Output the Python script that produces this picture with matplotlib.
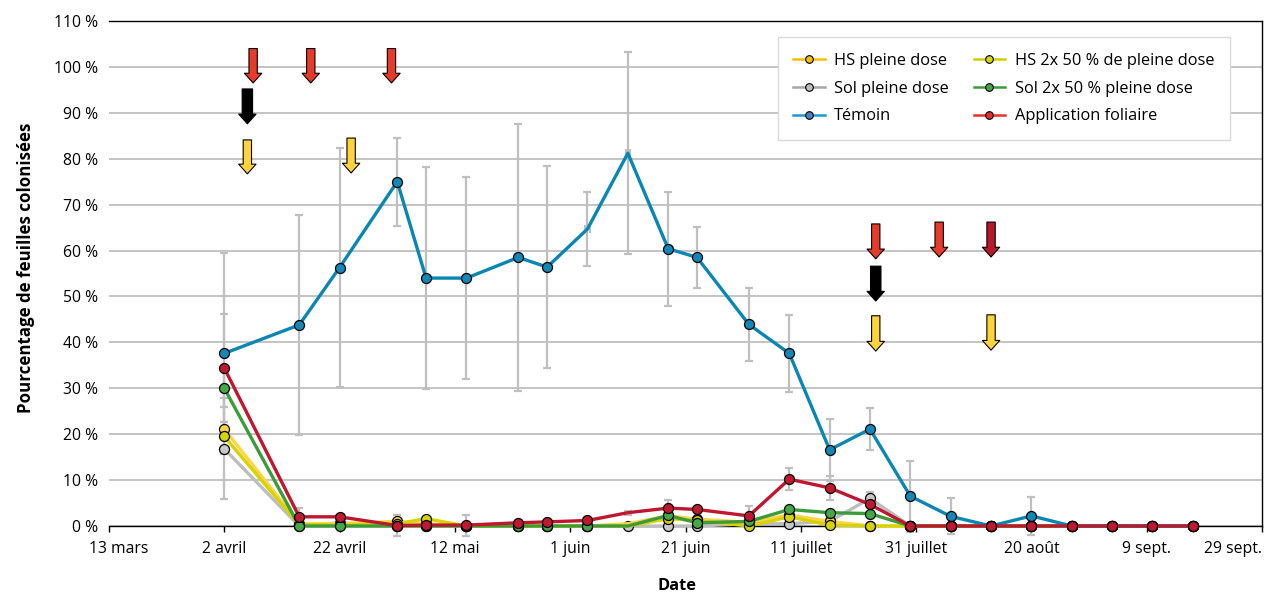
import numpy as np
import pandas as pd
import matplotlib
matplotlib.use("Agg")
import matplotlib.pyplot as plt
import matplotlib.dates as mdates
from matplotlib.lines import Line2D
from matplotlib.transforms import ScaledTranslation

plt.rcParams["font.family"] = ["Open Sans", "Noto Sans", "DejaVu Sans"]
plt.rcParams["font.size"] = 11.3

# sampling dates
dates = pd.to_datetime([
    "2016-04-02", "2016-04-15", "2016-04-22", "2016-05-02", "2016-05-07",
    "2016-05-14", "2016-05-23", "2016-05-28", "2016-06-04", "2016-06-11",
    "2016-06-18", "2016-06-23", "2016-07-02", "2016-07-09", "2016-07-16",
    "2016-07-23", "2016-07-30", "2016-08-06", "2016-08-13", "2016-08-20",
    "2016-08-27", "2016-09-03", "2016-09-10", "2016-09-17",
])

# % leaves colonised per treatment
hs_pleine = [21.1, 0.5, 0.5, 1.0, 0.5, 0, 0, 0, 0, 0.5, 2.2, 1.5, 0.8, 2.4, 1.0, 0,
             0, 0, 0, 0, 0, 0, 0, 0]
hs_2x50 = [19.5, 0.3, 0.2, 0.5, 1.6, 0, 0, 0, 0, 0, 1.6, 1.2, 0, 2.0, 0.2, 0,
           0, 0, 0, 0, 0, 0, 0, 0]
sol_pleine = [16.8, 0, 0.7, 0, 0, 0, 0, 0, 0, 0, 0, 0, 0.5, 0.5, 1.0, 6.0,
              0, 0, 0, 0, 0, 0, 0, 0]
sol_2x50 = [30.0, 0, 0, 0, 0, 0, 0, 0, 0, 0, 2.3, 0.7, 1.0, 3.6, 2.9, 2.7,
            0, 0, 0, 0, 0, 0, 0, 0]
temoin = [37.6, 43.8, 56.3, 75.0, 54.0, 54.0, 58.5, 56.4, 64.7, 81.2, 60.4, 58.5,
          43.9, 37.6, 16.6, 21.1, 6.5, 2.1, 0, 2.2, 0, 0, 0, 0]
foliaire = [34.4, 2.0, 2.0, 0.1, 0.2, 0.2, 0.7, 0.9, 1.2, 2.9, 3.9, 3.6, 2.2, 10.2,
            8.3, 4.7, 0, 0, 0, 0, 0, 0, 0, 0]

# error bars (0 = none)
err_temoin = [21.9, 24.0, 26.0, 9.6, 24.1, 22.0, 29.0, 22.0, 8.0, 22.0, 12.4, 6.7,
              8.0, 8.4, 6.7, 4.5, 7.7, 3.9, 0, 4.1, 0, 0, 0, 0]
xerr_temoin = [0, 0, 0, 0, 0, 0, 0, 0, 0.4, 0.4, 0, 0, 0, 0, 0, 0,
               0, 0, 0, 0, 0, 0, 0, 0]
err_foliaire = [11.8, 2.0, 0, 2.2, 0, 2.3, 0, 0, 0, 0.4, 1.7, 0, 2.2, 2.4, 2.6, 0,
                0, 0, 0, 0, 0, 0, 0, 0]
err_sol_pleine = [11.0, 0, 0, 0, 0, 0, 0, 0, 0, 0, 0, 0, 0, 0, 0, 1.5,
                  0, 0, 0, 0, 0, 0, 0, 0]
err_sol_2x50 = [4.0, 0, 0, 0, 0, 0, 0, 0, 0, 0, 0, 0, 0, 0, 0, 0,
                0, 0, 0, 0, 0, 0, 0, 0]
err_hs_pleine = [1.5, 0, 0, 0, 0, 0, 0, 0, 0, 0, 0, 0, 0, 0, 0, 0,
                 0, 0, 0, 0, 0, 0, 0, 0]

# treatment arrows: date, top %, bottom %, colour
arrow_dates = pd.to_datetime([
    "2016-04-07", "2016-04-17", "2016-05-01", "2016-04-06", "2016-04-06",
    "2016-04-24", "2016-07-24", "2016-08-04", "2016-08-13", "2016-07-24",
    "2016-07-24", "2016-08-13",
])
arrow_top = [104.0, 104.0, 104.0, 95.2, 84.1, 84.5, 65.8, 66.2, 66.2, 56.6, 45.8, 46.0]
arrow_bot = [96.5, 96.5, 96.5, 87.6, 76.7, 76.9, 58.2, 58.6, 58.6, 49.0, 38.1, 38.3]
arrow_col = ["#E63B2A", "#E63B2A", "#E63B2A", "#000000", "#FFD43B", "#FFD43B",
             "#E63B2A", "#E63B2A", "#B8182C", "#000000", "#FFD43B", "#FFD43B"]

tick_dates = pd.date_range("2016-03-13", periods=11, freq="20D")
tick_labels = ["13 mars", "2 avril", "22 avril", "12 mai", "1 juin", "21 juin",
               "11 juillet", "31 juillet", "20 août", "9 sept.", "29 sept."]

GRID = "#BFBFBF"

series = [
    # label, values, line colour, marker colour, errors, points without marker
    ("Sol pleine dose", sol_pleine, "#BDBDBD", "#C8C8C8", err_sol_pleine, []),
    ("HS pleine dose", hs_pleine, "#FFD447", "#FFD447", err_hs_pleine, [9]),
    ("HS 2x 50 % de pleine dose", hs_2x50, "#D6D300", "#D6D300", None, [9]),
    ("Sol 2x 50 % pleine dose", sol_2x50, "#3C9C3A", "#44A844", err_sol_2x50, [9]),
    ("Témoin", temoin, "#0A86B2", "#1287B8", err_temoin, [8, 9]),
    ("Application foliaire", foliaire, "#BF1730", "#C0182E", err_foliaire, [9]),
]

W, H = 1271, 594
fig = plt.figure(figsize=(W / 100, H / 100), dpi=100)
ax = fig.add_axes([109 / W, 1 - 526 / H, 1153 / W, 505 / H])

x = mdates.date2num(dates)
n = len(x)

# error bars under everything
for label, vals, lc, mc, err, skip in series:
    if err is None:
        continue
    v = np.array(vals)
    e = np.array(err)
    m = e > 0
    eb = ax.errorbar(x[m], v[m], yerr=e[m], fmt="none", ecolor=GRID,
                     elinewidth=1.6, capsize=3, capthick=1.6, zorder=1)
    for art in list(eb.lines[1]) + list(eb.lines[2]):
        art.set_clip_on(False)
xe = np.array(xerr_temoin)
m = xe > 0
ax.errorbar(x[m], np.array(temoin)[m], xerr=xe[m], fmt="none", ecolor=GRID,
            elinewidth=1.6, capsize=3, capthick=1.6, zorder=1)

for k, (label, vals, lc, mc, err, skip) in enumerate(series):
    keep = [i for i in range(n) if i not in skip]
    ax.plot(x, vals, color=lc, lw=2.4, marker="o", ms=7.2, mfc=mc, mec="black",
            mew=0.9, markevery=keep, zorder=3 + k, clip_on=False)

# treatment arrows
for d, yt, yb, c in zip(mdates.date2num(arrow_dates), arrow_top, arrow_bot, arrow_col):
    tw = 0.75 if c == "#000000" else 0.6
    ax.annotate("", xy=(d, yb), xytext=(d, yt),
                arrowprops=dict(arrowstyle=f"simple,head_length=0.7,head_width=1.25,tail_width={tw}",
                                mutation_scale=10, fc=c, ec="black", lw=0.8,
                                shrinkA=0, shrinkB=0),
                zorder=10)

ax.set_xlim(mdates.date2num(tick_dates[0]), mdates.date2num(tick_dates[-1]))
ax.set_ylim(0, 110)
ax.set_yticks(np.arange(0, 111, 10))
ax.set_yticklabels([f"{v} %" for v in range(0, 111, 10)])
ax.set_xticks(mdates.date2num(tick_dates))
ax.set_xticklabels(tick_labels)

ax.yaxis.grid(True, color=GRID, lw=1.3)
ax.set_axisbelow(True)
ax.tick_params(axis="y", length=0, pad=8)
ax.tick_params(axis="x", length=4, width=1, pad=7, direction="out")
ax.spines["left"].set_visible(False)
for s in ["top", "right", "bottom"]:
    ax.spines[s].set_color("black")
    ax.spines[s].set_linewidth(1.0)

xt = ax.get_xticklabels()
xt[0].set_transform(xt[0].get_transform() + ScaledTranslation(0.10, 0, fig.dpi_scale_trans))
xt[-1].set_horizontalalignment("right")

fig.text(26 / W, 1 - 268 / H, "Pourcentage de feuilles colonisées", rotation=90,
         ha="center", va="center", fontweight="bold", fontsize=12.2)
fig.text(677 / W, 1 - 586 / H, "Date", ha="center", va="center", fontweight="bold",
         fontsize=11.8)

# legend with its own colours
leg_spec = [
    ("HS pleine dose", "#F5BF00", "#F5C000"),
    ("Sol pleine dose", "#A6A6A6", "#BFBFBF"),
    ("Témoin", "#1F9AD0", "#4F81BD"),
    ("HS 2x 50 % de pleine dose", "#CFCF00", "#D8D800"),
    ("Sol 2x 50 % pleine dose", "#3C9A3C", "#43A843"),
    ("Application foliaire", "#E8322A", "#E03030"),
]
handles = [Line2D([], [], color=lc, lw=1.8, marker="o", ms=5.5, mfc=mc, mec="black",
                  mew=0.8) for _, lc, mc in leg_spec]
leg = ax.legend(handles, [s[0] for s in leg_spec], ncol=2, loc="upper right",
                bbox_to_anchor=(0.972, 0.968), borderaxespad=0, frameon=True,
                fancybox=False, edgecolor="#D9D9D9", framealpha=1, handlelength=1.9,
                columnspacing=1.5, labelspacing=0.72, borderpad=0.95,
                handletextpad=0.6, fontsize=11.8)
leg.get_frame().set_linewidth(1.0)
leg.set_zorder(20)

fig.savefig("out.png", dpi=100)
